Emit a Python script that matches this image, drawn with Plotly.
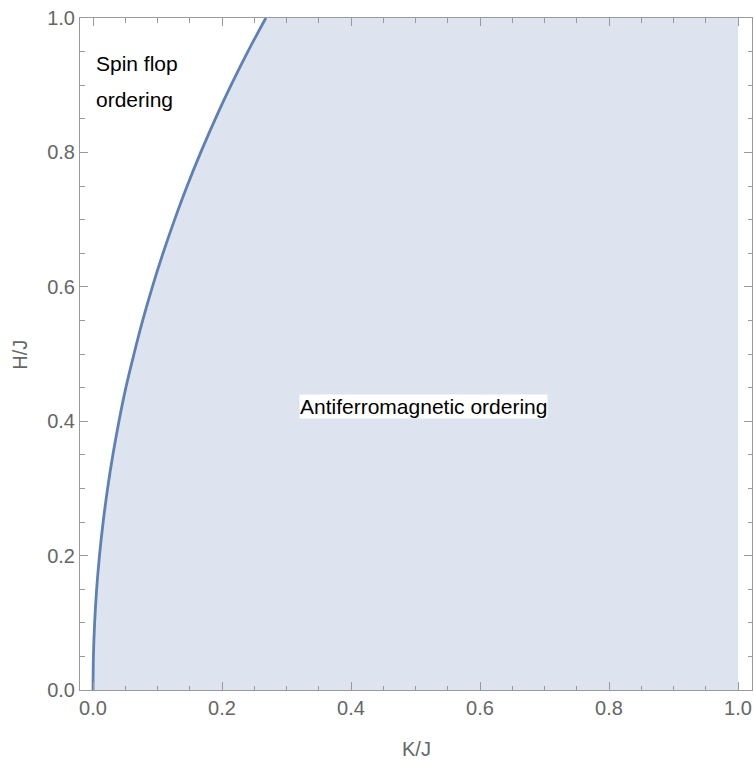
import plotly.graph_objects as go

# Boundary: K/J value of the curve at each H/J
H_vals = [0.0, 0.05, 0.1, 0.15, 0.2, 0.25, 0.3, 0.35, 0.4, 0.45, 0.5,
          0.55, 0.6, 0.65, 0.7, 0.75, 0.8, 0.85, 0.9, 0.95, 1.0]
K_vals = [0.0, 0.0006, 0.0025, 0.0056, 0.010, 0.0157, 0.0226, 0.0308, 0.0402,
          0.0509, 0.0635, 0.0770, 0.0920, 0.1085, 0.1265, 0.1459, 0.1670,
          0.1896, 0.2140, 0.2400, 0.2679]

x_ticks = [0.0, 0.2, 0.4, 0.6, 0.8, 1.0]
y_ticks = [0.0, 0.2, 0.4, 0.6, 0.8, 1.0]
tick_text = ["0.0", "0.2", "0.4", "0.6", "0.8", "1.0"]

label_spin = ["Spin flop", "ordering"]
label_af = "Antiferromagnetic ordering"

line_col = "#5E81B5"
fill_col = "rgb(222,227,240)"
frame_col = "#9a9a9a"
text_gray = "#666666"
FAM = "Liberation Sans, Arial, sans-serif"

fig = go.Figure()
# filled region (right of the boundary)
fig.add_trace(go.Scatter(
    x=K_vals + [1.0, 1.0], y=H_vals + [1.0, 0.0],
    mode="lines", fill="toself", fillcolor=fill_col,
    line=dict(width=0), hoverinfo="skip", showlegend=False))
# boundary curve
fig.add_trace(go.Scatter(
    x=K_vals, y=H_vals, mode="lines",
    line=dict(color=line_col, width=2.8, shape="spline"),
    showlegend=False))

font = dict(family=FAM, size=21, color="black")
fig.add_annotation(x=0.0016, y=0.933, text=label_spin[0], showarrow=False,
                   xanchor="left", yanchor="middle", font=font)
fig.add_annotation(x=0.0016, y=0.8785, text=label_spin[1], showarrow=False,
                   xanchor="left", yanchor="middle", font=font)
fig.add_annotation(x=0.5124, y=0.4226, text=label_af, showarrow=False,
                   xanchor="center", yanchor="middle", font=font,
                   bgcolor="white", borderpad=0)

# axis titles
fig.add_annotation(xref="paper", yref="paper", x=-0.0897, y=0.4985, text="H/J",
                   showarrow=False, textangle=-90, xanchor="center", yanchor="middle",
                   font=dict(family=FAM, size=20, color=text_gray))
fig.add_annotation(xref="paper", yref="paper", x=0.5, y=-0.0875, text="K/J",
                   showarrow=False, xanchor="center", yanchor="middle",
                   font=dict(family=FAM, size=20, color=text_gray))

axis_common = dict(
    showgrid=False, zeroline=False, showline=True, linecolor=frame_col, linewidth=1,
    mirror="allticks", ticks="inside", ticklen=8, tickcolor=frame_col, tickwidth=1,
    tickfont=dict(family=FAM, size=20, color=text_gray),
    minor=dict(ticks="inside", ticklen=4.5, tickcolor=frame_col, dtick=0.05, showgrid=False),
)

fig.update_xaxes(range=[-0.0202, 1.0217], tickvals=x_ticks, ticktext=tick_text, **axis_common)
fig.update_yaxes(range=[0, 1], tickvals=y_ticks, ticktext=tick_text, **axis_common)

fig.update_layout(
    width=754, height=760,
    margin=dict(l=80, r=2, t=18, b=70),
    plot_bgcolor="white", paper_bgcolor="white",
    showlegend=False,
)

fig.write_html("out.html")
